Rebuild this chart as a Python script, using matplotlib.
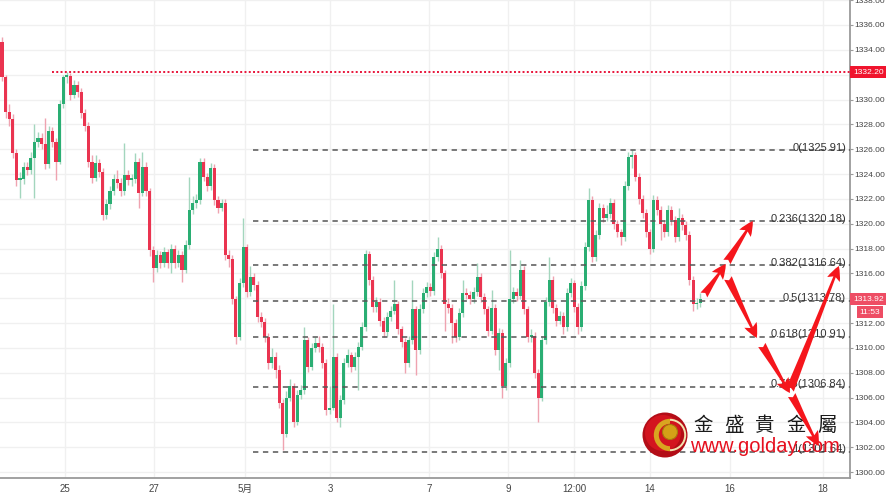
import matplotlib
matplotlib.use('Agg')
import matplotlib.pyplot as plt
from matplotlib.patches import Circle, Wedge
from matplotlib.transforms import blended_transform_factory
import numpy as np

plt.rcParams['font.family'] = ['Liberation Sans', 'Noto Sans CJK SC']

# ---------------- data ----------------
first_open = 1334.6
closes = [
    1331.8, 1329.0, 1328.4, 1325.7, 1323.5, 1323.6, 1324.6, 1324.3, 1325.3, 1326.6,
    1326.9, 1326.4, 1324.8, 1327.5, 1326.6, 1325.0, 1329.6, 1331.8, 1331.9, 1330.4,
    1331.2, 1330.6, 1328.9, 1327.9, 1325.0, 1323.7, 1324.9, 1324.2, 1320.7, 1321.6,
    1322.6, 1323.6, 1323.3, 1322.6, 1323.9, 1323.5, 1323.6, 1325.0, 1322.5, 1324.6,
    1322.6, 1317.9, 1316.4, 1317.5, 1316.8, 1317.7, 1316.8, 1318.0, 1316.8, 1317.5,
    1316.3, 1318.3, 1321.1, 1321.7, 1321.9, 1325.0, 1323.8, 1323.0, 1324.5, 1321.9,
    1321.3, 1321.7, 1317.5, 1317.2, 1313.9, 1310.9, 1315.2, 1318.1, 1314.5, 1315.7,
    1315.1, 1312.5, 1312.1, 1310.9, 1308.8, 1309.3, 1308.2, 1305.6, 1303.1, 1306.0,
    1306.9, 1304.0, 1306.2, 1306.6, 1310.6, 1308.5, 1310.0, 1310.4, 1310.1, 1308.8,
    1305.0, 1305.2, 1309.3, 1304.4, 1305.8, 1308.8, 1309.4, 1308.5, 1309.3, 1310.1,
    1311.7, 1317.6, 1315.5, 1313.3, 1313.7, 1312.2, 1311.3, 1312.5, 1313.0, 1313.5,
    1311.5, 1310.5, 1308.8, 1310.6, 1313.1, 1309.8, 1313.1, 1314.4, 1314.9, 1314.6,
    1317.3, 1318.0, 1316.0, 1313.5, 1313.2, 1312.0, 1310.9, 1312.8, 1314.4, 1314.3,
    1313.9, 1314.5, 1315.7, 1314.1, 1313.1, 1311.4, 1313.2, 1309.8, 1311.2, 1306.9,
    1308.8, 1313.9, 1314.5, 1314.2, 1316.3, 1313.1, 1310.9, 1311.0, 1308.0, 1306.0,
    1310.6, 1313.7, 1315.5, 1313.2, 1312.2, 1312.6, 1311.7, 1314.4, 1315.2, 1313.3,
    1311.7, 1315.0, 1318.1, 1321.9, 1317.3, 1319.1, 1321.3, 1320.5, 1320.8, 1321.7,
    1320.0, 1319.3, 1318.9, 1323.0, 1325.4, 1325.5, 1323.8, 1322.0, 1320.9, 1319.3,
    1318.0, 1321.9, 1321.1, 1320.0, 1319.3, 1321.1, 1320.3, 1318.9, 1320.5, 1319.9,
    1319.1, 1315.5, 1313.5, 1313.6, 1313.92,
]
highs = [
    1335.0, 1332.0, 1329.6, 1328.8, 1326.0, 1324.2, 1325.0, 1325.0, 1325.8, 1328.0,
    1327.4, 1327.3, 1328.5, 1327.9, 1327.8, 1326.9, 1330.0, 1332.0, 1332.2, 1332.1,
    1331.6, 1331.5, 1330.9, 1329.2, 1328.2, 1325.5, 1325.5, 1325.2, 1324.5, 1322.0,
    1323.0, 1324.0, 1324.3, 1323.7, 1326.5, 1324.3, 1324.0, 1325.7, 1325.3, 1325.8,
    1325.0, 1322.9, 1318.2, 1317.9, 1317.8, 1318.1, 1318.0, 1318.4, 1318.3, 1317.9,
    1317.8, 1318.7, 1323.8, 1322.2, 1322.4, 1325.3, 1325.3, 1324.1, 1324.9, 1324.8,
    1322.2, 1322.0, 1322.0, 1317.9, 1317.5, 1314.2, 1315.6, 1320.5, 1318.4, 1316.6,
    1316.0, 1315.4, 1312.9, 1312.4, 1311.2, 1310.0, 1309.7, 1308.6, 1305.9, 1306.5,
    1307.5, 1307.2, 1306.6, 1307.0, 1311.7, 1310.9, 1310.4, 1310.9, 1311.0, 1310.4,
    1309.1, 1306.9, 1313.5, 1309.6, 1306.2, 1309.2, 1309.9, 1309.7, 1309.7, 1310.5,
    1312.1, 1317.9, 1317.8, 1315.8, 1314.1, 1314.0, 1312.5, 1312.9, 1313.4, 1315.5,
    1313.8, 1311.8, 1310.8, 1311.0, 1315.5, 1313.4, 1313.5, 1314.8, 1315.3, 1315.2,
    1317.7, 1318.9, 1318.3, 1316.3, 1314.0, 1313.5, 1312.3, 1313.2, 1315.5, 1314.8,
    1314.6, 1314.9, 1316.8, 1316.0, 1314.4, 1313.4, 1314.7, 1313.5, 1311.6, 1311.5,
    1309.2, 1317.9, 1314.9, 1314.8, 1317.1, 1316.6, 1313.4, 1311.5, 1311.3, 1308.3,
    1311.0, 1314.1, 1317.3, 1315.8, 1313.5, 1313.0, 1312.9, 1314.8, 1315.6, 1315.5,
    1313.6, 1315.4, 1318.5, 1322.9, 1322.2, 1319.5, 1321.7, 1321.6, 1321.5, 1322.1,
    1322.0, 1320.3, 1319.6, 1323.4, 1325.8, 1325.9, 1325.8, 1324.1, 1322.3, 1321.2,
    1319.6, 1322.3, 1322.2, 1321.4, 1320.3, 1321.5, 1321.4, 1320.6, 1321.3, 1320.8,
    1320.2, 1319.4, 1315.8, 1314.0, 1314.4,
]
lows = [
    1331.5, 1328.5, 1327.9, 1325.3, 1323.0, 1322.1, 1323.2, 1323.9, 1324.0, 1322.1,
    1326.2, 1326.0, 1324.4, 1324.5, 1326.2, 1323.5, 1324.8, 1329.3, 1331.3, 1330.0,
    1330.1, 1330.2, 1328.5, 1327.5, 1324.6, 1323.3, 1323.4, 1323.8, 1320.3, 1320.4,
    1321.2, 1322.3, 1322.9, 1322.2, 1322.3, 1323.1, 1323.0, 1323.3, 1321.3, 1322.2,
    1322.2, 1317.4, 1315.3, 1316.1, 1316.4, 1316.5, 1316.4, 1316.0, 1316.4, 1316.5,
    1315.3, 1316.0, 1318.0, 1320.8, 1321.3, 1321.6, 1323.4, 1322.6, 1322.7, 1321.5,
    1320.9, 1321.0, 1317.1, 1316.5, 1313.5, 1310.3, 1310.6, 1314.9, 1314.1, 1314.2,
    1314.7, 1312.1, 1311.7, 1310.5, 1308.3, 1308.4, 1307.6, 1305.2, 1301.8, 1302.8,
    1305.7, 1303.6, 1303.8, 1305.9, 1306.3, 1308.1, 1308.2, 1309.7, 1309.7, 1308.4,
    1304.6, 1304.7, 1305.0, 1304.0, 1303.6, 1305.5, 1308.5, 1308.1, 1308.2, 1306.6,
    1309.8, 1311.4, 1315.1, 1312.9, 1312.9, 1311.8, 1310.9, 1311.0, 1312.2, 1312.7,
    1311.1, 1310.1, 1308.0, 1308.5, 1310.3, 1307.8, 1309.5, 1312.8, 1314.1, 1314.2,
    1314.3, 1317.0, 1315.6, 1311.4, 1312.8, 1310.4, 1310.5, 1310.6, 1312.5, 1313.9,
    1313.5, 1313.6, 1314.2, 1313.7, 1312.7, 1311.0, 1311.1, 1309.4, 1308.2, 1306.0,
    1306.6, 1308.5, 1313.6, 1313.8, 1313.9, 1312.7, 1310.5, 1310.5, 1307.6, 1304.0,
    1305.7, 1310.3, 1313.4, 1312.8, 1311.8, 1311.9, 1311.1, 1311.4, 1314.1, 1312.9,
    1311.1, 1311.4, 1314.7, 1317.8, 1316.9, 1317.0, 1318.8, 1320.1, 1320.2, 1320.5,
    1319.6, 1318.9, 1318.3, 1318.6, 1322.7, 1324.5, 1323.4, 1321.6, 1320.5, 1318.9,
    1317.6, 1317.7, 1320.7, 1318.7, 1318.9, 1319.0, 1319.9, 1318.5, 1318.6, 1319.5,
    1318.7, 1315.1, 1313.0, 1313.1, 1313.3,
]

tick_pos = [17.5, 42.2, 67.5, 91.1, 118.6, 140.6, 158.9, 180.0, 202.2, 228.1]
tick_labels = ['25', '27', '5月', '3', '7', '9', '12:00', '14', '16', '18']

fib_ratios = ['0', '0.236', '0.382', '0.5', '0.618', '0.786', '1']
fib_levels = [1325.91, 1320.18, 1316.64, 1313.78, 1310.91, 1306.84, 1301.64]
fib_start = 69.7

resistance = 1332.20
resistance_start = 13.9
last_price = 1313.92
countdown = '11:53'

# forecast arrows: (start index, start price) -> (end index, end price)
arrows = [
    ((195.0, 1314.26), (201.1, 1316.76)),
    ((201.4, 1316.92), (208.6, 1320.22)),
    ((201.7, 1315.63), (209.7, 1310.80)),
    ((211.1, 1310.24), (218.9, 1306.37)),
    ((219.4, 1306.21), (226.9, 1302.10)),
    ((218.9, 1306.61), (232.5, 1316.60)),
]

brand_cn = ['金', '盛', '貴', '金', '屬']
brand_url = 'www.golday.com'

# ---------------- figure ----------------
W, H = 886, 493
fig = plt.figure(figsize=(W / 100, H / 100), dpi=100)
fig.patch.set_facecolor('white')
ax = fig.add_axes([0, 15 / H, 850 / W, 478 / H])
ax.set_facecolor('white')

ax.set_xlim(-0.56, 235.6)
ax.set_ylim(1299.53, 1338.01)

c = np.array(closes)
o = np.array([first_open] + closes[:-1])
hi = np.array(highs)
lo = np.array(lows)
idx = np.arange(len(c))
up = c >= o

body_up, body_dn = '#2aae73', '#ea3450'
wick_up, wick_dn = '#a3d6bd', '#efa3b0'
ax.vlines(idx, lo, hi, colors=np.where(up, wick_up, wick_dn), lw=1.0, zorder=2)
ax.bar(idx, np.maximum(np.abs(c - o), 0.15), bottom=np.minimum(o, c), width=0.85,
       color=np.where(up, body_up, body_dn), linewidth=0, zorder=3)

# grid
ax.set_yticks(np.arange(1300, 1339, 2))
ax.set_yticklabels([f'{v:.2f}' for v in np.arange(1300, 1339, 2)])
ax.set_xticks(tick_pos)
ax.set_xticklabels(tick_labels)
ax.grid(True, color='#f0f0f0', lw=1.0, zorder=0)
ax.set_axisbelow(True)

ax.yaxis.tick_right()
for s in ['top', 'left']:
    ax.spines[s].set_visible(False)
for s in ['right', 'bottom']:
    ax.spines[s].set_color('#9a9a9a')
    ax.spines[s].set_linewidth(1.3)
ax.tick_params(axis='y', labelsize=6.1, labelcolor='#444444', color='#9a9a9a', length=2, pad=1)
ax.tick_params(axis='x', labelsize=7, labelcolor='#444444', length=0, pad=4)

trans = blended_transform_factory(ax.transAxes, ax.transData)

# resistance dotted line
ax.hlines(resistance, resistance_start, 235.6, colors='#e8143a', lw=1.4,
          linestyles=(0, (1, 1.2)), zorder=4)

# fib lines
for r, lvl in zip(fib_ratios, fib_levels):
    ax.hlines(lvl, fib_start, 235.6, colors='#555555', lw=1.1,
              linestyles=(0, (3.5, 3)), zorder=4)
    ax.text(0.9955, lvl + 0.22, f'{r}({lvl:.2f})', transform=trans, ha='right',
            va='center', fontsize=8, color='#333333', zorder=5)

# right side price tags
ax.text(1.0035, resistance, f'{resistance:.2f}', transform=trans, ha='left', va='center',
        fontsize=6.1, color='white', clip_on=False, zorder=10,
        bbox=dict(boxstyle='square,pad=0.3', facecolor='#f0142d', edgecolor='none'))
ax.text(1.0035, last_price, f'{last_price:.2f}', transform=trans, ha='left', va='center',
        fontsize=6.1, color='white', clip_on=False, zorder=10,
        bbox=dict(boxstyle='square,pad=0.3', facecolor='#ee4d64', edgecolor='none'))
ax.text(1.0235, last_price - 1.05, countdown, transform=trans, ha='center', va='center',
        fontsize=6.1, color='white', clip_on=False, zorder=10,
        bbox=dict(boxstyle='square,pad=0.3', facecolor='#ee4d64', edgecolor='none'))

# watermark logo (in figure inches so the circles stay round)
it = fig.dpi_scale_trans
cx, cy, R = 6.65, 0.58, 0.225
ax.add_patch(Circle((cx, cy), R, transform=it, facecolor='#b30d17', edgecolor='none',
                    clip_on=False, zorder=6))
ax.add_patch(Circle((cx - 0.02, cy + 0.02), R * 0.8, transform=it, facecolor='#d3141f',
                    edgecolor='none', clip_on=False, zorder=6))
ax.add_patch(Wedge((cx + 0.05, cy), R * 0.72, 90, 270, width=0.05, transform=it,
                   facecolor='#d9a520', edgecolor='none', clip_on=False, zorder=6))
ax.add_patch(Wedge((cx + 0.05, cy), R * 0.72, -90, 90, width=0.02, transform=it,
                   facecolor='#f2e3b0', edgecolor='none', clip_on=False, zorder=6))
ax.add_patch(Circle((cx + 0.05, cy + 0.03), 0.075, transform=it, facecolor='#d4a017',
                    edgecolor='#a87a0c', lw=0.8, clip_on=False, zorder=6))

for k, ch in enumerate(brand_cn):
    ax.text(7.03 + 0.31 * k, 0.675, ch, transform=it, ha='center', va='center',
            fontsize=14, color='#1a1a1a', family=['Noto Sans CJK TC'], clip_on=False, zorder=6)
ax.text(7.65, 0.47, brand_url, transform=it, ha='center', va='center', fontsize=14.5,
        color='#e60f1e', clip_on=False, zorder=6)

# forecast arrows
for (x0, y0), (x1, y1) in arrows:
    ax.annotate('', xy=(x1, y1), xytext=(x0, y0),
                arrowprops=dict(arrowstyle='fancy,head_length=0.7,head_width=0.65,tail_width=0.4',
                                color='#f5161c', mutation_scale=15, shrinkA=0, shrinkB=0, lw=0),
                zorder=8, annotation_clip=False)

fig.savefig('out.png', dpi=100, facecolor='white')
